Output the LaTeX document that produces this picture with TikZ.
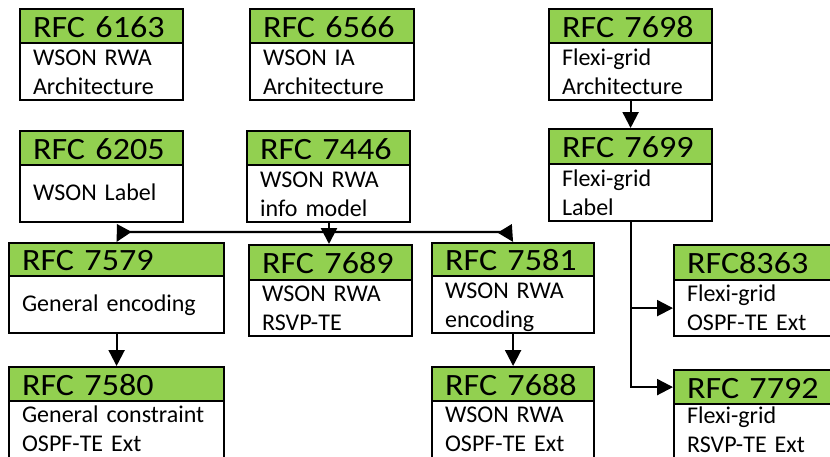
\documentclass[tikz,border=0pt]{standalone}
\usepackage{fontspec}
\setmainfont{Carlito}
\newfontfamily\hdrfam[FakeStretch=1.1]{Carlito}
\usetikzlibrary{arrows.meta}
\definecolor{hgreen}{HTML}{92D050}
\newcommand\rfcbox[9]{% #1 name, #2 x1, #3 y1, #4 x2, #5 yh, #6 y2, #7 title, #8 body, #9 body style
  \pgfmathsetmacro\bw{#4-#2}%
  \pgfmathsetmacro\hh{#5-#3}%
  \pgfmathsetmacro\bh{#6-#5}%
  \pgfmathsetmacro\tw{#4-#2-26}%
  \node[bdy,#9, minimum width=\bw pt, minimum height=\bh pt, text width=\tw pt, anchor=north west] (#1b) at (#2,#5) {#8};
  \node[hdr, minimum width=\bw pt, minimum height=\hh pt, text width=\tw pt, anchor=north west] (#1h) at (#2,#3) {#7};
}
\begin{document}
\begin{tikzpicture}[x=1pt,y=-1pt,
  hdr/.style={draw=black, fill=hgreen, line width=2.2pt, inner ysep=0pt, inner xsep=13pt,
    font=\hdrfam\fontsize{31}{34}\selectfont, text height=22pt, text depth=0pt, align=left},
  bdy/.style={draw=black, fill=white, line width=2.2pt, inner ysep=0pt, inner xsep=13pt,
    font=\fontsize{24}{29}\selectfont, text height=14pt, text depth=27pt, align=left},
  one/.style={text height=14pt, text depth=0pt},
  two/.style={},
  low/.style={text height=14pt, text depth=29pt},
  conn/.style={line width=2.2pt, -{Triangle[length=16pt,width=16pt]}},
  plain/.style={line width=2.2pt}]
\useasboundingbox (0,0) rectangle (830,456);
\fill[white] (0,0) rectangle (830,456);
\rfcbox{r6163}{19}{8}{182}{42}{99}{RFC 6163}{WSON RWA\\Architecture}{two}
\rfcbox{r6566}{249}{8}{413}{42}{99}{RFC 6566}{WSON IA\\Architecture}{two}
\rfcbox{r7698}{548}{8}{711}{42}{99}{RFC 7698}{Flexi-grid\\Architecture}{two}
\rfcbox{r6205}{19}{130}{182}{164}{221}{RFC 6205}{WSON Label}{one}
\rfcbox{r7446}{246}{130}{409}{164}{221}{RFC 7446}{WSON RWA\\info model}{two}
\rfcbox{r7699}{548}{128}{711}{163}{220}{RFC 7699}{Flexi-grid\\Label}{two}
\rfcbox{r7579}{8}{242}{223}{275}{332}{RFC 7579}{General encoding}{one}
\rfcbox{r7689}{248}{244}{411}{279}{335}{RFC 7689}{WSON RWA\\RSVP-TE}{two}
\rfcbox{r7581}{431}{242}{593}{275}{332}{RFC 7581}{WSON RWA\\encoding}{two}
\rfcbox{r8363}{673}{244}{845}{279}{335}{RFC8363}{Flexi-grid\\OSPF-TE Ext}{two}
\rfcbox{r7580}{8}{366}{223}{400}{458}{RFC 7580}{General constraint\\OSPF-TE Ext}{low}
\rfcbox{r7688}{431}{366}{593}{400}{458}{RFC 7688}{WSON RWA\\OSPF-TE Ext}{low}
\rfcbox{r7792}{673}{369}{845}{403}{457}{RFC 7792}{Flexi-grid\\RSVP-TE Ext}{low}
% connectors
\draw[conn] (r7698b.south) -- (r7699h.north);
\coordinate (j) at (329,232);
\coordinate (jl) at (134,232);
\coordinate (jr) at (495,232);
\draw[plain] (r7446b.south -| j) -- (j);
\draw[conn] (j) -- (j |- r7689h.north);
\draw[conn] (j) -- (jl) .. controls (122,232) .. (r7579h.north);
\draw[conn] (j) -- (jr) .. controls (507,232) .. (r7581h.north);
\draw[conn] (r7579b.south) -- (r7580h.north);
\draw[conn] (r7581b.south) -- (r7688h.north);
\draw[conn] (r7699b.south) |- (r8363b.west);
\draw[conn] (r7699b.south) |- (r7792h.west);
\end{tikzpicture}
\end{document}
